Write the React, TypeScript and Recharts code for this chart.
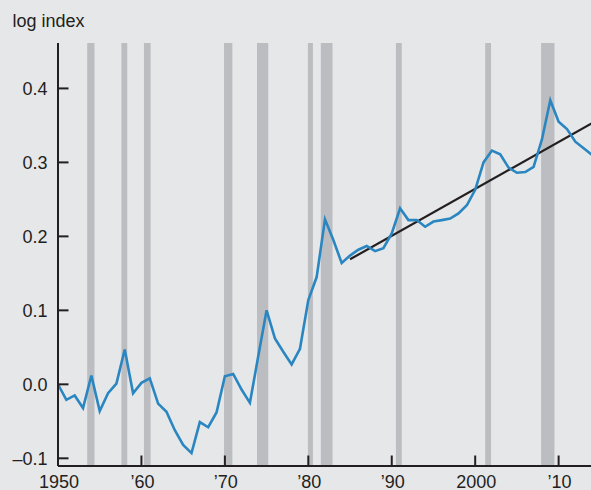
import React from "react";
import { LineChart, Line, XAxis, YAxis, ReferenceArea } from "recharts";

const years = [
  1950, 1951, 1952, 1953, 1954, 1955, 1956, 1957, 1958, 1959,
  1960, 1961, 1962, 1963, 1964, 1965, 1966, 1967, 1968, 1969,
  1970, 1971, 1972, 1973, 1974, 1975, 1976, 1977, 1978, 1979,
  1980, 1981, 1982, 1983, 1984, 1985, 1986, 1987, 1988, 1989,
  1990, 1991, 1992, 1993, 1994, 1995, 1996, 1997, 1998, 1999,
  2000, 2001, 2002, 2003, 2004, 2005, 2006, 2007, 2008, 2009,
  2010, 2011, 2012, 2013, 2014,
];

const logIndex = [
  0.0, -0.021, -0.015, -0.032, 0.012, -0.036, -0.012, 0.001, 0.047, -0.012,
  0.002, 0.008, -0.026, -0.037, -0.062, -0.082, -0.093, -0.051, -0.058, -0.038,
  0.011, 0.014, -0.007, -0.025, 0.038, 0.1, 0.062, 0.044, 0.027, 0.048,
  0.114, 0.145, 0.223, 0.195, 0.164, 0.174, 0.182, 0.187, 0.18, 0.184,
  0.204, 0.238, 0.222, 0.222, 0.213, 0.22, 0.222, 0.224, 0.231, 0.242,
  0.263, 0.3, 0.316, 0.311, 0.293, 0.286, 0.287, 0.294, 0.331, 0.384,
  0.355, 0.345, 0.328, 0.319, 0.31,
];

const trendYears = [1985, 2014];
const trendValues = [0.169, 0.353];

const recessions: [number, number][] = [
  [1953.5, 1954.37],
  [1957.6, 1958.3],
  [1960.3, 1961.1],
  [1969.9, 1970.9],
  [1973.85, 1975.2],
  [1979.95, 1980.55],
  [1981.5, 1982.9],
  [1990.5, 1991.2],
  [2001.2, 2001.9],
  [2007.9, 2009.5],
];

const xTicks = [1950, 1960, 1970, 1980, 1990, 2000, 2010];
const xTickLabels = ["1950", "\u201960", "\u201970", "\u201980", "\u201990", "2000", "\u201910"];
const yTicks = [-0.1, 0.0, 0.1, 0.2, 0.3, 0.4];

const data = years.map((y, i) => {
  const ti = trendYears.indexOf(y);
  return { year: y, value: logIndex[i], trend: ti >= 0 ? trendValues[ti] : null };
});

const INK = "#231f20";
const FONT = "'Liberation Sans', Arial, Helvetica, sans-serif";

const XTick = (props: any) => {
  const { x, y, payload } = props;
  const idx = xTicks.indexOf(payload.value);
  return (
    <g>
      {payload.value !== 1950 && (
        <line x1={x} x2={x} y1={y} y2={y - 10.5} stroke={INK} strokeWidth={2} />
      )}
      <text x={x + 1} y={y + 22} textAnchor="middle" fontSize={18} fontFamily={FONT} fill={INK}>
        {idx >= 0 ? xTickLabels[idx] : payload.value}
      </text>
    </g>
  );
};

const YTick = (props: any) => {
  const { x, y, payload } = props;
  const v = Number(payload.value);
  const label = v < 0 ? "\u2013" + Math.abs(v).toFixed(1) : v.toFixed(1);
  return (
    <g>
      <line x1={x} x2={x + 10.5} y1={y} y2={y} stroke={INK} strokeWidth={2} />
      <text x={x - 10.5} y={y + 6.4} textAnchor="end" fontSize={18} fontFamily={FONT} fill={INK}>
        {label}
      </text>
    </g>
  );
};

export default function App() {
  return (
    <div
      style={{
        position: "absolute",
        left: 0,
        top: 0,
        width: 591,
        height: 490,
        overflow: "hidden",
        background: "#e6e7e9",
      }}
    >
      <svg width={591} height={40} style={{ position: "absolute", left: 0, top: 0 }}>
        <text x={12.5} y={27} fontSize={18} fontFamily={FONT} fill={INK}>
          log index
        </text>
      </svg>
      <div style={{ position: "absolute", left: 0, top: 0 }}>
        <LineChart
          width={600}
          height={490}
          data={data}
          margin={{ top: 43, right: 8, bottom: 0, left: 0 }}
        >
          {recessions.map(([a, b], i) => (
            <ReferenceArea
              key={i}
              x1={a}
              x2={b}
              y1={-0.1104}
              y2={0.4614}
              fill="#bcbdc0"
              fillOpacity={1}
              stroke="none"
              ifOverflow="extendDomain"
            />
          ))}
          <XAxis
            dataKey="year"
            type="number"
            domain={[1950, 2014]}
            ticks={xTicks}
            interval={0}
            height={24}
            tickSize={0}
            tickMargin={0}
            tickLine={false}
            axisLine={{ stroke: INK, strokeWidth: 2 }}
            tick={<XTick />}
            allowDataOverflow
          />
          <YAxis
            type="number"
            domain={[-0.1104, 0.4614]}
            ticks={yTicks}
            interval={0}
            width={58}
            tickSize={0}
            tickMargin={0}
            tickLine={false}
            axisLine={{ stroke: INK, strokeWidth: 2 }}
            tick={<YTick />}
            allowDataOverflow
          />
          <Line
            type="linear"
            dataKey="trend"
            stroke={INK}
            strokeWidth={2.2}
            dot={false}
            connectNulls
            isAnimationActive={false}
          />
          <Line
            type="linear"
            dataKey="value"
            stroke="#2a86c1"
            strokeWidth={2.6}
            dot={false}
            isAnimationActive={false}
          />
        </LineChart>
      </div>
    </div>
  );
}
